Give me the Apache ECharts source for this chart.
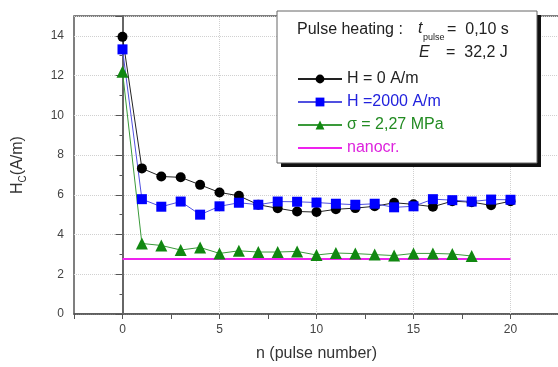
<!DOCTYPE html>
<html>
<head>
<meta charset="utf-8">
<script src="https://cdn.jsdelivr.net/npm/echarts@6/dist/echarts.min.js"></script>
<style>
  html, body { margin: 0; padding: 0; background: #fff; overflow: hidden; }
  #chart { width: 562px; height: 367px; }
</style>
</head>
<body>
<div id="chart"></div>
<script>
// pulse number
const pulses = [0, 1, 2, 3, 4, 5, 6, 7, 8, 9, 10, 11, 12, 13, 14, 15, 16, 17, 18, 19, 20];
// Hc values (A/m)
const hZero = [13.95, 7.33, 6.92, 6.88, 6.5, 6.12, 5.95, 5.5, 5.32, 5.16, 5.13, 5.27, 5.33, 5.42, 5.6, 5.52, 5.4, 5.68, 5.63, 5.47, 5.68];
const h2000 = [13.32, 5.78, 5.4, 5.66, 5.0, 5.42, 5.6, 5.5, 5.66, 5.65, 5.61, 5.55, 5.5, 5.55, 5.37, 5.42, 5.78, 5.73, 5.66, 5.76, 5.75];
const sigma = [12.2, 3.55, 3.45, 3.22, 3.35, 3.05, 3.18, 3.12, 3.12, 3.15, 2.97, 3.07, 3.04, 2.99, 2.94, 3.05, 3.05, 3.02, 2.92];
const nanocr = 2.77;
const nanocrRange = [0, 20];
const xGridLines = [5, 10, 15, 20];
const seriesNames = ['H = 0 A/m', 'H =2000 A/m', 'σ = 2,27 MPa', 'nanocr.'];

const font = 'Liberation Sans, Arial, sans-serif';
const pairs = (vals) => vals.map((v, i) => [pulses[i], v]);

const chart = echarts.init(document.getElementById('chart'));

chart.setOption({
  animation: false,
  textStyle: { fontFamily: font },
  grid: {
    left: 74, top: 16, right: 2, bottom: 49,
    show: true, borderColor: '#555', borderWidth: 1.5
  },
  xAxis: {
    type: 'value',
    min: -2.5, max: 22.5, interval: 2.5,
    name: 'n (pulse number)',
    nameLocation: 'middle',
    nameGap: 32,
    nameTextStyle: { fontSize: 16, color: '#333', fontFamily: font },
    axisLine: { lineStyle: { color: '#555', width: 1.5 } },
    axisTick: { inside: false, length: 5, lineStyle: { color: '#555' } },
    axisLabel: {
      color: '#444', fontSize: 12, margin: 10,
      formatter: v => (v % 5 === 0 ? String(v) : '')
    },
    splitLine: { show: false }
  },
  yAxis: {
    type: 'value',
    min: 0, max: 15, interval: 2,
    name: '{h|H}{s|C}{h|(A/m)}',
    nameLocation: 'middle',
    nameGap: 46,
    nameTextStyle: {
      rich: {
        h: { fontSize: 16, color: '#333', fontFamily: font, lineHeight: 20 },
        s: { fontSize: 10, color: '#333', fontFamily: font, lineHeight: 20, padding: [10, 0, 0, 0] }
      }
    },
    axisLine: { lineStyle: { color: '#555', width: 1.5 } },
    axisTick: { length: 7, lineStyle: { color: '#555' } },
    minorTick: { show: true, splitNumber: 2, length: 3, lineStyle: { color: '#555' } },
    axisLabel: { color: '#444', fontSize: 12, margin: 10, showMaxLabel: false },
    splitLine: { lineStyle: { color: '#d0d0d0', type: 'dotted', width: 1 } }
  },
  legend: {
    orient: 'vertical',
    left: 297, top: 71, padding: 0,
    itemWidth: 44, itemHeight: 11, itemGap: 7,
    z: 20,
    textStyle: { fontSize: 16, fontFamily: font, lineHeight: 14 },
    data: [
      { name: seriesNames[0], textStyle: { color: '#222' } },
      { name: seriesNames[1], textStyle: { color: '#2222dd' } },
      { name: seriesNames[2], textStyle: { color: '#228b22' } },
      { name: seriesNames[3], textStyle: { color: '#dd22dd' }, itemStyle: { opacity: 0 } }
    ]
  },
  graphic: [
    { type: 'rect', z: 10, shape: { x: 281, y: 15, width: 260, height: 152 }, style: { fill: '#111' } },
    { type: 'rect', z: 11, shape: { x: 277, y: 11, width: 260, height: 152 }, style: { fill: '#fff', stroke: '#666', lineWidth: 1 } },
    { type: 'text', z: 21, x: 297, y: 30, style: { text: 'Pulse heating :', font: '16px ' + font, fill: '#222', verticalAlign: 'middle' } },
    { type: 'text', z: 21, x: 418, y: 29, style: { text: 't', font: 'italic 16px ' + font, fill: '#222', verticalAlign: 'middle' } },
    { type: 'text', z: 21, x: 423, y: 38, style: { text: 'pulse', font: '9px ' + font, fill: '#222', verticalAlign: 'middle' } },
    { type: 'text', z: 21, x: 447, y: 30, style: { text: '=  0,10 s', font: '16px ' + font, fill: '#222', verticalAlign: 'middle' } },
    { type: 'text', z: 21, x: 419, y: 53, style: { text: 'E', font: 'italic 16px ' + font, fill: '#222', verticalAlign: 'middle' } },
    { type: 'text', z: 21, x: 446, y: 53, style: { text: '=  32,2 J', font: '16px ' + font, fill: '#222', verticalAlign: 'middle' } }
  ],
  series: [
    {
      // helper: vertical grid lines and the n = 0 line, drawn under the data
      name: 'grid', type: 'line', data: [], z: 1,
      markLine: {
        z: 1, silent: true, symbol: 'none', label: { show: false },
        data: [
          { xAxis: 0, lineStyle: { color: '#666', width: 2, type: 'solid' } }
        ].concat(xGridLines.map(v => ({ xAxis: v, lineStyle: { color: '#d0d0d0', width: 1, type: 'dotted' } })))
      }
    },
    {
      name: seriesNames[0], type: 'line', data: pairs(hZero),
      symbol: 'circle', symbolSize: 10,
      lineStyle: { color: '#222', width: 1 },
      itemStyle: { color: '#000' }
    },
    {
      name: seriesNames[1], type: 'line', data: pairs(h2000),
      symbol: 'rect', symbolSize: 10,
      lineStyle: { color: '#5050e0', width: 1 },
      itemStyle: { color: '#0000ff' }
    },
    {
      name: seriesNames[2], type: 'line', data: pairs(sigma),
      symbol: 'triangle', symbolSize: 12,
      lineStyle: { color: '#3a9a3a', width: 1 },
      itemStyle: { color: '#118811' }
    },
    {
      name: seriesNames[3], type: 'line',
      data: nanocrRange.map(x => [x, nanocr]),
      symbol: 'none',
      lineStyle: { color: '#ee22ee', width: 2 },
      itemStyle: { color: '#ee22ee' }
    }
  ]
});
</script>
</body>
</html>
